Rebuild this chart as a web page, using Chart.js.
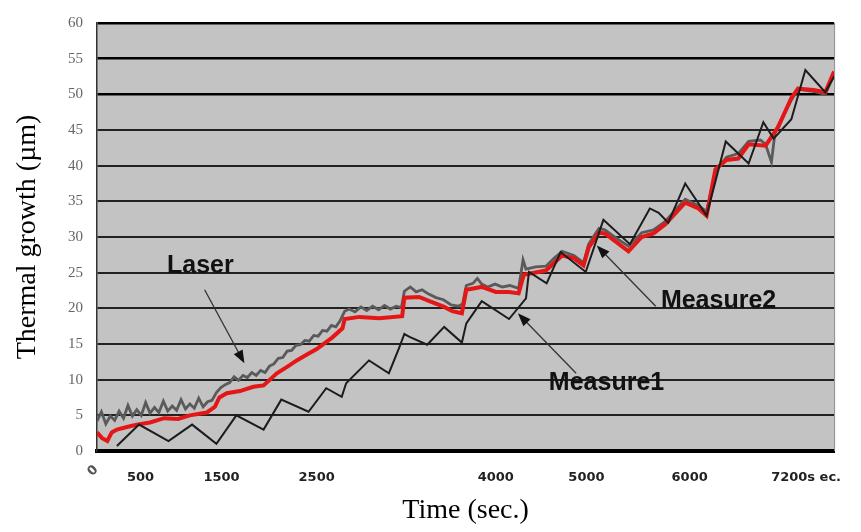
<!DOCTYPE html>
<html>
<head>
<meta charset="utf-8">
<script src="https://cdn.jsdelivr.net/npm/chart.js@4.4.1/dist/chart.umd.min.js"></script>
<style>
  html, body { margin: 0; padding: 0; background: #fff; }
  #wrap { width: 861px; height: 532px; }
</style>
</head>
<body>
<div id="wrap"><canvas id="thermalChart" width="861" height="532"></canvas></div>
<script>
// Datos (eje x: avance del ensayo 0-100, las etiquetas van donde estaban)
const tickAt = [0, 5.9, 16.9, 29.8, 54.1, 66.4, 80.4, 96.2];
const tickLabels = ['0', '500', '1500', '2500', '4000', '5000', '6000', '7200s ec.'];
const yTicks = [0, 5, 10, 15, 20, 25, 30, 35, 40, 45, 50, 55, 60];

// Measure1 (línea negra en diente de sierra)
const measure1X = [2.7, 5.7, 9.7, 12.9, 16.2, 18.9, 22.6, 25.0, 28.7, 31.1, 33.2, 33.8, 36.9, 39.6, 41.0, 41.7, 42.4, 44.8, 47.1, 49.5, 50.1, 52.2, 55.9, 58.2, 58.6, 61.0, 62.9, 66.3, 68.7, 72.3, 75.0, 76.2, 77.5, 79.8, 82.7, 85.3, 88.4, 90.4, 91.8, 94.2, 96.1, 98.8, 100];
const measure1Y = [0.7, 3.7, 1.4, 3.7, 1.0, 5.0, 3.0, 7.2, 5.5, 8.8, 7.6, 9.5, 12.7, 10.9, 14.5, 16.4, 16.0, 14.9, 17.4, 15.2, 17.9, 21.0, 18.5, 21.4, 25.1, 23.5, 27.9, 25.1, 32.4, 29.0, 34.0, 33.4, 32.0, 37.5, 33.0, 43.4, 40.3, 46.1, 43.8, 46.5, 53.4, 50.3, 52.5];

// Measure2 (línea roja)
const measure2X = [0, 0.7, 1.4, 2.0, 2.7, 4.2, 5.4, 7.2, 9.1, 11.0, 12.6, 14.9, 16.0, 16.6, 17.6, 19.4, 21.2, 22.6, 24.4, 26.1, 27.1, 28.6, 29.8, 31.9, 33.3, 33.6, 35.6, 38.3, 41.4, 41.7, 43.7, 45.1, 47.1, 48.2, 49.5, 50.1, 52.2, 54.1, 55.9, 57.2, 57.9, 60.9, 63.1, 64.7, 66.0, 66.7, 68.1, 68.9, 72.1, 73.9, 75.5, 77.1, 79.8, 81.6, 82.7, 83.9, 85.4, 87.0, 88.4, 90.7, 92.4, 94.2, 95.1, 97.2, 98.8, 100];
const measure2Y = [2.6, 1.8, 1.4, 2.6, 3.0, 3.4, 3.7, 4.0, 4.6, 4.5, 5.0, 5.4, 6.2, 7.5, 8.1, 8.4, 9.0, 9.2, 10.9, 12.0, 12.7, 13.6, 14.3, 15.9, 17.2, 18.5, 18.8, 18.6, 18.9, 21.5, 21.6, 21.0, 20.2, 19.6, 19.3, 22.6, 23.0, 22.3, 22.3, 22.1, 24.7, 25.3, 27.4, 27.0, 26.0, 28.5, 30.6, 30.5, 28.0, 30.0, 30.5, 31.8, 34.8, 34.0, 33.0, 39.5, 40.8, 41.0, 43.0, 42.8, 45.4, 49.5, 50.8, 50.6, 50.3, 53.2];

// Laser (línea gris con ruido)
const laserX = [0, 0.6, 1.2, 1.8, 2.4, 3.0, 3.6, 4.2, 4.8, 5.4, 6.0, 6.6, 7.2, 7.8, 8.4, 9.0, 9.6, 10.2, 10.8, 11.4, 12.0, 12.6, 13.2, 13.8, 14.4, 15.0, 15.6, 16.2, 16.8, 17.4, 18.0, 18.6, 19.2, 19.8, 20.4, 21.0, 21.6, 22.2, 22.8, 23.4, 24.0, 24.6, 25.2, 25.8, 26.4, 27.0, 27.6, 28.2, 28.8, 29.4, 30.0, 30.6, 31.2, 31.8, 32.4, 33.0, 33.6, 34.2, 35.0, 35.8, 36.6, 37.4, 38.2, 39.0, 39.8, 40.6, 41.3, 41.7, 42.5, 43.3, 44.1, 45.0, 46.0, 47.0, 48.0, 49.0, 49.6, 50.1, 51.0, 51.6, 52.2, 53.0, 54.0, 55.0, 56.0, 57.2, 57.8, 58.2, 59.5, 60.9, 62.0, 63.1, 64.7, 66.0, 66.7, 68.1, 68.9, 70.5, 72.1, 73.9, 75.5, 77.1, 79.8, 81.6, 82.7, 83.9, 85.4, 87.0, 88.4, 90.0, 90.7, 91.5, 92.0, 92.6, 94.2, 95.1, 97.2, 98.8, 100];
const laserY = [4.2, 5.5, 3.8, 4.9, 4.3, 5.6, 4.6, 6.4, 4.9, 5.8, 5.0, 6.8, 5.3, 6.1, 5.4, 7.0, 5.6, 6.3, 5.7, 7.2, 5.9, 6.6, 6.0, 7.4, 6.2, 6.9, 7.1, 8.2, 8.9, 9.3, 9.6, 10.4, 9.9, 10.6, 10.3, 11.0, 10.6, 11.3, 11.0, 11.9, 12.2, 13.0, 13.1, 14.0, 14.1, 14.8, 14.9, 15.5, 15.4, 16.2, 16.1, 16.9, 16.8, 17.6, 17.4, 18.3, 19.6, 19.9, 19.5, 20.2, 19.7, 20.3, 19.8, 20.4, 19.9, 20.3, 20.1, 22.4, 23.0, 22.3, 22.6, 22.0, 21.5, 21.2, 20.5, 20.3, 20.6, 23.2, 23.5, 24.2, 23.4, 23.0, 23.4, 23.0, 23.2, 22.8, 26.8, 25.5, 25.8, 25.9, 27.0, 28.0, 27.4, 26.4, 29.0, 31.2, 31.0, 29.8, 28.7, 30.6, 31.0, 32.2, 35.3, 34.4, 33.6, 39.2, 41.2, 41.7, 43.4, 43.6, 43.0, 40.5, 44.8, 46.0, 49.2, 50.7, 50.4, 50.0, 52.8];

// Textos con flecha sobre el gráfico (coordenadas en unidades de los ejes)
const notes = [
  { text: 'Laser', x: 9.5, y: 25.9, fromX: 14.6, fromY: 22.6, toX: 20.0, toY: 12.3 },
  { text: 'Measure2', x: 76.5, y: 21.0, fromX: 75.8, fromY: 20.3, toX: 67.8, toY: 28.8 },
  { text: 'Measure1', x: 61.3, y: 9.5, fromX: 65.0, fromY: 10.9, toX: 57.1, toY: 19.3 }
];

function toPoints(xs, ys) {
  return xs.map((x, i) => ({ x: x, y: ys[i] }));
}

// Fondo gris del área, borde derecho, el "0" girado y las anotaciones
const chartDecor = {
  id: 'chartDecor',
  beforeDraw(chart) {
    const { ctx, chartArea: a } = chart;
    ctx.save();
    ctx.fillStyle = '#c3c3c3';
    ctx.fillRect(a.left, a.top, a.right - a.left, a.bottom - a.top);
    ctx.restore();
  },
  afterDraw(chart) {
    const { ctx, chartArea: a } = chart;
    const xs = chart.scales.x;
    const ys = chart.scales.y;
    ctx.save();
    ctx.strokeStyle = '#8a8a8a';
    ctx.lineWidth = 1;
    ctx.beginPath();
    ctx.moveTo(a.right + 0.5, a.top);
    ctx.lineTo(a.right + 0.5, a.bottom);
    ctx.stroke();

    // etiqueta "0" inclinada
    ctx.translate(xs.getPixelForValue(tickAt[0]) - 4, a.bottom + 20);
    ctx.rotate(-Math.PI / 4);
    ctx.fillStyle = '#555';
    ctx.font = 'bold 13px "DejaVu Sans"';
    ctx.textAlign = 'center';
    ctx.textBaseline = 'middle';
    ctx.fillText(tickLabels[0], 0, 0);
    ctx.restore();

    ctx.save();
    notes.forEach(n => {
      const x1 = xs.getPixelForValue(n.fromX), y1 = ys.getPixelForValue(n.fromY);
      const x2 = xs.getPixelForValue(n.toX), y2 = ys.getPixelForValue(n.toY);
      const ang = Math.atan2(y2 - y1, x2 - x1);
      ctx.strokeStyle = '#333';
      ctx.fillStyle = '#111';
      ctx.lineWidth = 1.3;
      ctx.beginPath();
      ctx.moveTo(x1, y1);
      ctx.lineTo(x2 - 10 * Math.cos(ang), y2 - 10 * Math.sin(ang));
      ctx.stroke();
      ctx.beginPath();
      ctx.moveTo(x2, y2);
      ctx.lineTo(x2 - 13 * Math.cos(ang) + 5 * Math.sin(ang), y2 - 13 * Math.sin(ang) - 5 * Math.cos(ang));
      ctx.lineTo(x2 - 13 * Math.cos(ang) - 5 * Math.sin(ang), y2 - 13 * Math.sin(ang) + 5 * Math.cos(ang));
      ctx.closePath();
      ctx.fill();

      ctx.font = 'bold 25px "Liberation Sans"';
      ctx.textAlign = 'left';
      ctx.textBaseline = 'middle';
      ctx.fillText(n.text, xs.getPixelForValue(n.x), ys.getPixelForValue(n.y));
    });
    ctx.restore();
  }
};

function createChart() {
  const ctx = document.getElementById('thermalChart').getContext('2d');
  new Chart(ctx, {
    type: 'line',
    data: {
      datasets: [
        { label: 'Measure1', data: toPoints(measure1X, measure1Y), borderColor: '#1c1c1c', borderWidth: 2, order: 0 },
        { label: 'Measure2', data: toPoints(measure2X, measure2Y), borderColor: '#e41616', borderWidth: 4, order: 1 },
        { label: 'Laser', data: toPoints(laserX, laserY), borderColor: '#5a5a5a', borderWidth: 2.8, order: 2 }
      ]
    },
    options: {
      responsive: false,
      animation: false,
      layout: { padding: { top: 17, right: 25, left: 0, bottom: 0 } },
      elements: { point: { radius: 0 }, line: { tension: 0 } },
      plugins: { legend: { display: false }, tooltip: { enabled: false } },
      scales: {
        x: {
          type: 'linear',
          min: 0,
          max: 100,
          afterFit(scale) { scale.height = 81; },
          afterBuildTicks(scale) { scale.ticks = tickAt.map(v => ({ value: v })); },
          grid: { drawOnChartArea: false, drawTicks: false },
          border: { display: true, color: '#000', width: 4 },
          ticks: {
            autoSkip: false,
            maxRotation: 0,
            padding: 19,
            color: '#222',
            font: { family: '"DejaVu Sans"', size: 13, weight: 'bold' },
            callback: (value, index) => (index === 0 ? '' : tickLabels[index])
          },
          title: {
            display: true,
            text: 'Time (sec.)',
            color: '#000',
            font: { family: '"Liberation Serif"', size: 28 },
            padding: { top: 0, bottom: 5 }
          }
        },
        y: {
          min: 0,
          max: 60,
          afterFit(scale) { scale.width = 97; },
          afterBuildTicks(scale) { scale.ticks = yTicks.map(v => ({ value: v })); },
          grid: {
            drawTicks: false,
            color: c => (c.tick.value === 0 ? 'rgba(0,0,0,0)' : (c.tick.value >= 50 ? '#000' : '#222')),
            lineWidth: c => (c.tick.value >= 50 ? 2.6 : 2)
          },
          border: { display: true, color: '#333', width: 1.5 },
          ticks: {
            padding: 14,
            color: '#666',
            font: { family: '"Liberation Serif"', size: 15 }
          },
          title: {
            display: true,
            text: 'Thermal growth (µm)',
            color: '#000',
            font: { family: '"Liberation Serif"', size: 28 },
            padding: { top: 11, bottom: 0 }
          }
        }
      }
    },
    plugins: [chartDecor]
  });
}

document.addEventListener('DOMContentLoaded', function () {
  createChart();
});
</script>
</body>
</html>
